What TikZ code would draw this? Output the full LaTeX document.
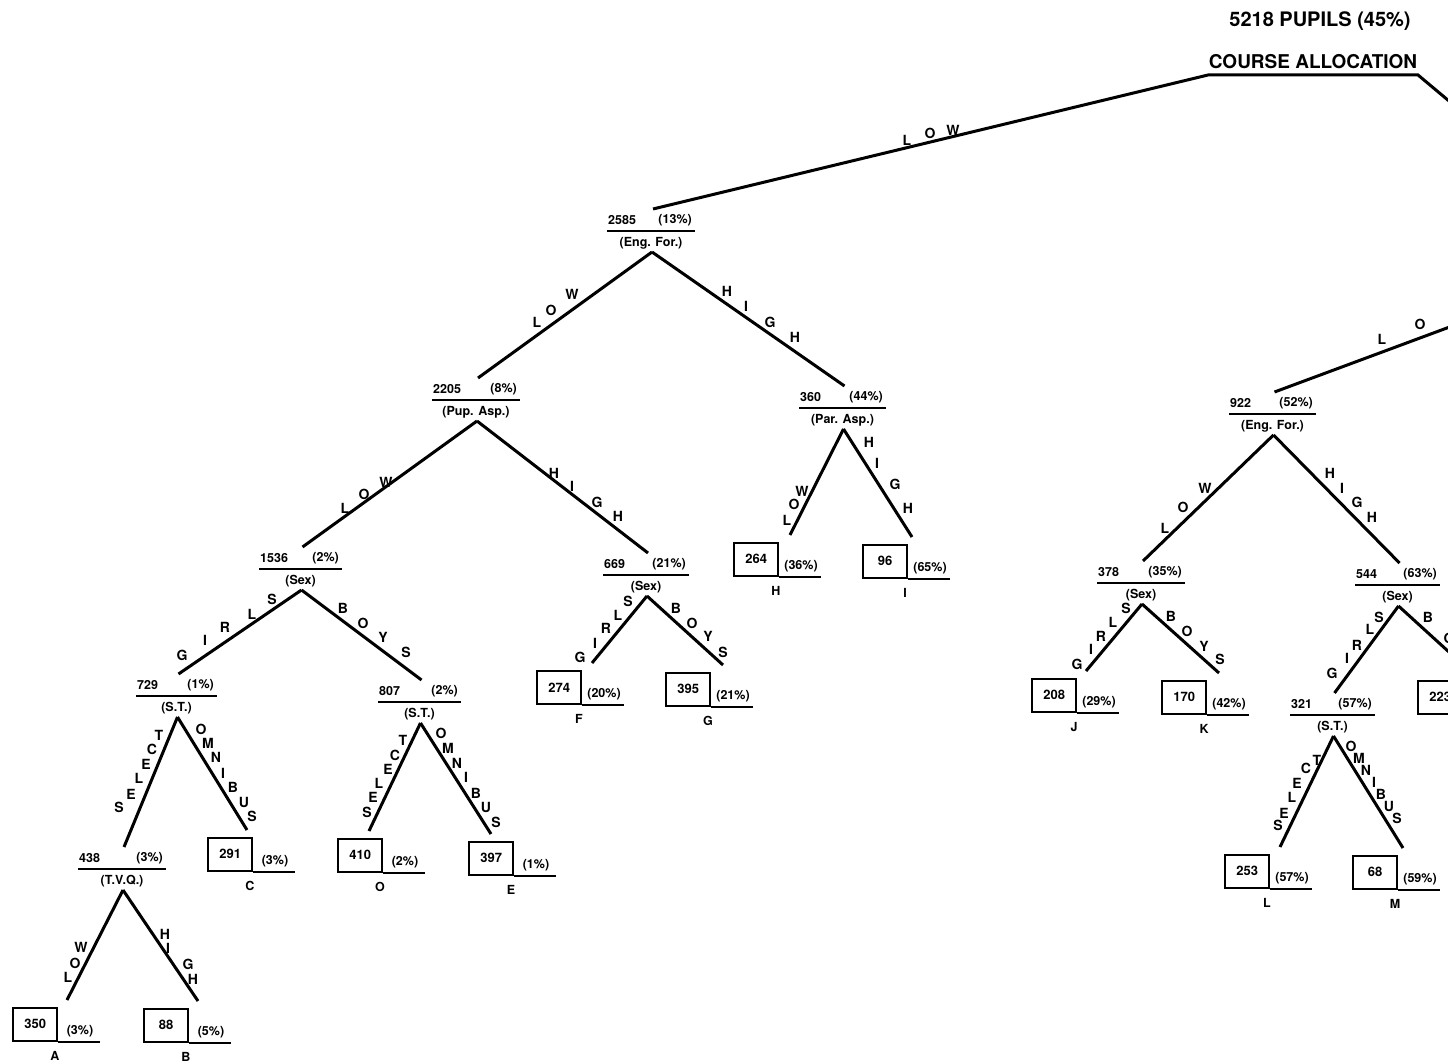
\documentclass[tikz,border=0pt]{standalone}
\usepackage{fontspec}
\setmainfont{TeX Gyre Heros}

\begin{document}
\begin{tikzpicture}[x=1pt, y=-1pt,
    branch/.style={line width=3pt},
    rule/.style={line width=2.4pt},
    txt/.style={font=\fontsize{12.5}{13}\selectfont\bfseries, inner sep=0pt},
    lbl/.style={font=\fontsize{14}{14}\selectfont\bfseries, inner sep=0pt},
    leafbox/.style={draw, line width=2.4pt, minimum width=44pt, minimum height=33pt,
      inner sep=0pt, font=\fontsize{13}{13}\selectfont\bfseries}]
    % Page
    \useasboundingbox (0,0) rectangle (1448,1064);
    \fill[white] (0,0) rectangle (1448,1064);
    \clip (0,0) rectangle (1448,1064);
    % Title
    \node[font=\fontsize{20}{20}\selectfont\bfseries] (pupils) at (1320,21) {5218 PUPILS (45\%)};
    \node[font=\fontsize{19}{19}\selectfont\bfseries] (course) at (1313,62) {COURSE ALLOCATION};
    \coordinate (ca-l) at (1208,75);
    \coordinate (ca-r) at (1418,75);
    \coordinate (ca-off) at (1480,127);
    \coordinate (lo-off) at (1490,312);
    % Split nodes
    \foreach \nm/\l/\r/\y/\n/\p/\a in {
      n2585/607/695/231/2585/(13\%)/(Eng. For.),
      n2205/432/520/400/2205/(8\%)/(Pup. Asp.),
      n380/799/886/408/360/(44\%)/(Par. Asp.),
      n1536/259/342/569/1536/(2\%)/(Sex),
      n669/603/689/575/669/(21\%)/(Sex),
      n729/136/217/696/729/(1\%)/(S.T.),
      n807/378/461/702/807/(2\%)/(S.T.),
      n438/78/166/869/438/(3\%)/(T.V.Q.),
      n922/1229/1316/414/922/(52\%)/(Eng. For.),
      n378/1097/1185/583/378/(35\%)/(Sex),
      n544/1355/1440/585/544/(63\%)/(Sex),
      n321/1290/1375/715/321/(57\%)/(S.T.)} {
      \draw[rule] (\l,\y) -- (\r,\y);
      \node[txt, anchor=west] (\nm-num) at (\l+1,\y-11) {\n};
      \node[txt, anchor=east] (\nm-pct) at (\r-3,\y-11) {\p};
      \node[txt] (\nm-att) at ({(\l+\r)/2},\y+12) {\a};
      \coordinate (\nm-top) at ({(\l+\r)/2+2},\y-22);
      \coordinate (\nm-apex) at ({(\l+\r)/2+1},\y+21);
    }
    % Leaves
    \foreach \nm/\x/\y/\dx/\n/\p/\c in {
      lA/12/1042/55/350/(3\%)/A,
      lB/143/1043/55/88/(5\%)/B,
      lC/207/872/40/291/(3\%)/C,
      lO/337/873/32/410/(2\%)/O,
      lE/468/876/23/397/(1\%)/E,
      lF/536/705/56/274/(20\%)/F,
      lG/665/707/58/395/(21\%)/G,
      lH/733/577/57/264/(36\%)/H,
      lI/862/579/50/96/(65\%)/I,
      lJ/1031/713/55/208/(29\%)/J,
      lK/1161/715/58/170/(42\%)/K,
      lL/1224/889/56/253/(57\%)/L,
      lM/1352/890/51/68/(59\%)/M,
      l223/1417/715/55/223/{}/{}} {
      \node[leafbox, anchor=south west] (\nm) at (\x,\y) {\n};
      \draw[rule] (\nm.south east) -- ++(42,0);
      \node[txt] (\nm-pct) at (\x+68,\y-11) {\p};
      \node[txt] (\nm-let) at (\x+43,\y+14) {\c};
      \coordinate (\nm-top) at (\x+\dx,\y-42);
    }
    % Branches
    \draw[branch] (n2585-top) -- (ca-l) -- (ca-r) -- (ca-off);
    \draw[branch] (n922-top) -- (lo-off);
    \foreach \from/\to in {n2585/n2205, n2585/n380, n2205/n1536, n2205/n669,
      n380/lH, n380/lI, n1536/n729, n1536/n807, n669/lF, n669/lG,
      n729/n438, n729/lC, n807/lO, n807/lE, n438/lA, n438/lB,
      n922/n378, n922/n544, n378/lJ, n378/lK, n544/n321, n544/l223,
      n321/lL, n321/lM} {
      \draw[branch] (\from-apex) -- (\to-top);
    }
    % Letters on the top branches
    \foreach \x/\y/\c [count=\k] in {907/140/L, 930/133/O, 953/130/W,
      1382/339/L, 1420/324/O} {
      \node[lbl] (top-\k) at (\x,\y) {\c};
    }
    % Letters, left tree
    \foreach \x/\y/\c [count=\k] in {537/322/L, 551/310/O, 572/294/W,
      727/291/H, 746/306/I, 770/322/G, 795/337/H,
      345/508/L, 364/494/O, 386/482/W, 554/473/H, 572/486/I, 597/502/G, 618/516/H,
      787/520/L, 794/504/O, 802/491/W, 869/442/H, 877/463/I, 895/484/G, 908/508/H} {
      \node[lbl] (asp-\k) at (\x,\y) {\c};
    }
    \foreach \x/\y/\c [count=\k] in {182/655/G, 205/640/I, 225/627/R, 252/614/L, 272/599/S,
      343/608/B, 363/623/O, 383/637/Y, 406/652/S,
      580/657/G, 595/643/I, 606/628/R, 618/615/L, 628/601/S,
      676/608/B, 692/623/O, 708/636/Y, 723/652/S} {
      \node[lbl] (sex-\k) at (\x,\y) {\c};
    }
    \foreach \x/\y/\c [count=\k] in {119/807/S, 131/794/E, 139/778/L, 146/764/E, 152/749/C, 159/735/T,
      201/729/O, 208/743/M, 216/757/N, 223/773/I, 233/787/B, 244/802/U, 252/816/S,
      367/812/S, 373/797/E, 379/783/L, 388/769/E, 395/755/C, 403/740/T,
      441/733/O, 448/748/M, 457/763/N, 466/777/I, 476/793/B, 486/807/U, 496/822/S,
      68/977/L, 75/963/O, 81/947/W, 165/934/H, 168/948/I, 188/964/G, 193/979/H} {
      \node[lbl] (st-\k) at (\x,\y) {\c};
    }
    % Letters, right tree
    \foreach \x/\y/\c [count=\k] in {1165/528/L, 1183/507/O, 1205/488/W,
      1330/473/H, 1342/488/I, 1357/502/G, 1372/517/H,
      1077/664/G, 1091/649/I, 1101/636/R, 1113/622/L, 1126/608/S,
      1171/616/B, 1187/631/O, 1204/646/Y, 1220/659/S,
      1332/673/G, 1347/658/I, 1357/645/R, 1370/629/L, 1379/617/S, 1428/617/B, 1449/638/O,
      1278/825/S, 1284/813/E, 1292/797/L, 1297/783/E, 1306/768/C, 1317/760/T,
      1351/746/O, 1359/758/M, 1366/770/N, 1374/782/I, 1381/794/B, 1389/806/U, 1397/818/S} {
      \node[lbl] (rt-\k) at (\x,\y) {\c};
    }
\end{tikzpicture}
\end{document}
